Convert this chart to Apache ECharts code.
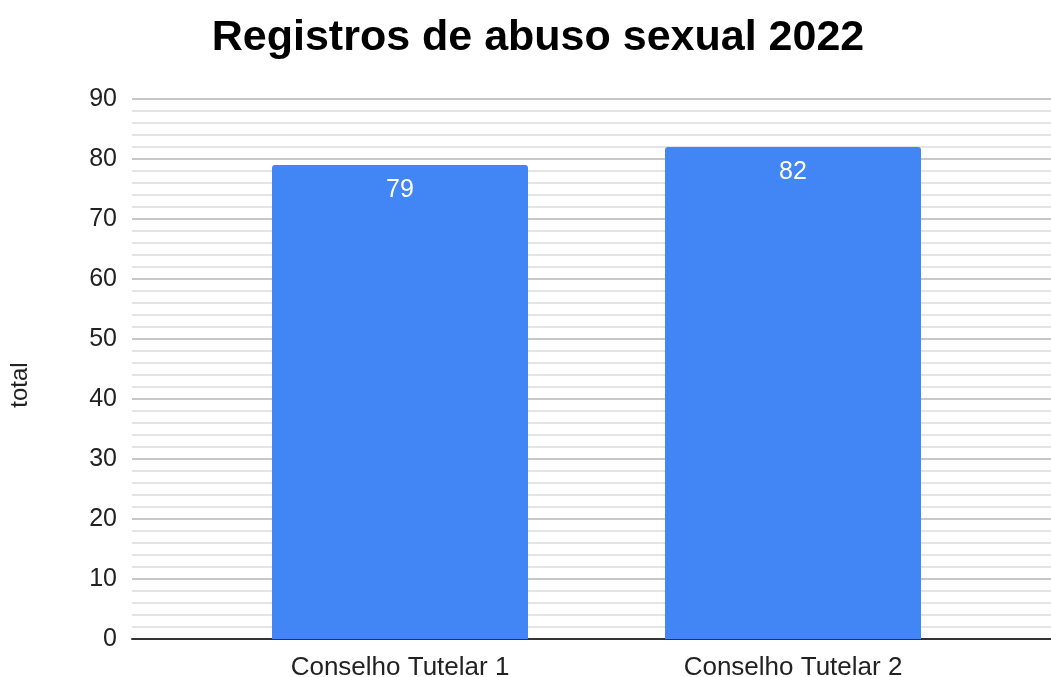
<!DOCTYPE html>
<html><head><meta charset="utf-8">
<script src="https://cdn.jsdelivr.net/npm/echarts@6/dist/echarts.min.js"></script>
<style>html,body{margin:0;padding:0;background:#fff}#c{width:1051px;height:677px}</style>
</head><body><div id="c"></div>
<script>
const categories = ['Conselho Tutelar 1', 'Conselho Tutelar 2'];
const totals = [79, 82];
const yTicks = [0, 10, 20, 30, 40, 50, 60, 70, 80, 90];
const titleText = 'Registros de abuso sexual 2022';
const yName = 'total';

const font = '"Liberation Sans", Arial, sans-serif';
const chart = echarts.init(document.getElementById('c'));
chart.setOption({
  animation: false,
  title: { text: titleText, left: 533, top: 12, textAlign: 'center',
    textStyle: { fontFamily: font, fontWeight: 'bold', fontSize: 43, color: '#000' } },
  grid: [
    { left: 132, right: 0, top: 99, bottom: 38, outerBoundsMode: 'none', containLabel: false },
    { left: 203.5, right: 61.5, top: 99, bottom: 38, outerBoundsMode: 'none', containLabel: false }
  ],
  graphic: [{
    type: 'text', x: 20, y: 385, rotation: Math.PI / 2,
    style: { text: yName, fontFamily: font, fontSize: 24, fill: '#222', align: 'center', verticalAlign: 'middle' }
  }],
  xAxis: [
    { gridIndex: 0, type: 'category', data: [''], axisLine: { lineStyle: { color: '#333', width: 2 } },
      axisTick: { show: false }, axisLabel: { show: false }, splitLine: { show: false } },
    { gridIndex: 1, type: 'category', data: categories, axisLine: { show: false },
      axisTick: { show: false },
      axisLabel: { fontFamily: font, fontSize: 26, color: '#222', margin: 16 } }
  ],
  yAxis: [
    { gridIndex: 0, type: 'value', min: yTicks[0], max: yTicks[yTicks.length - 1], interval: 10,
      axisLine: { show: false }, axisTick: { show: false },
      axisLabel: { fontFamily: font, fontSize: 25, color: '#222', margin: 15 },
      splitLine: { lineStyle: { color: '#c8c8c8', width: 2 } },
      minorTick: { show: false, splitNumber: 5 },
      minorSplitLine: { show: true, lineStyle: { color: '#e4e4e4', width: 2 } } },
    { gridIndex: 1, type: 'value', min: yTicks[0], max: yTicks[yTicks.length - 1], show: false,
      splitLine: { show: false } }
  ],
  series: [{
    type: 'bar', xAxisIndex: 1, yAxisIndex: 1, data: totals, barWidth: 256,
    itemStyle: { color: '#4285f4', borderRadius: [3, 3, 0, 0] },
    label: { show: true, position: 'insideTop', distance: 13, color: '#fff',
      fontFamily: font, fontSize: 25 }
  }]
});
</script></body></html>
